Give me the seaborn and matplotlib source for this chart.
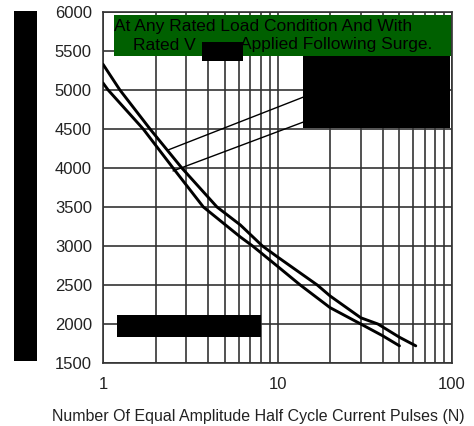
import numpy as np
import pandas as pd
import matplotlib
matplotlib.use("Agg")
import matplotlib.pyplot as plt
from matplotlib.patches import Rectangle
from matplotlib.ticker import FixedLocator, NullFormatter
import seaborn as sns

# values
n_upper = [1, 1.25, 1.86, 2.83, 4.5, 6.13, 8.2, 10, 16.9, 20, 30, 37.6, 50, 62]
v_upper = [5330, 5000, 4500, 4000, 3500, 3269, 3000, 2860, 2500, 2360, 2080, 2000, 1830, 1720]
n_lower = [1, 1.07, 1.70, 2.52, 3.76, 6.13, 7.2, 10, 13.5, 20, 30, 40, 50]
v_lower = [5090, 5000, 4500, 4000, 3500, 3115, 3000, 2740, 2500, 2210, 2000, 1850, 1720]

y_ticks = [1500, 2000, 2500, 3000, 3500, 4000, 4500, 5000, 5500, 6000]
x_ticks = [1, 10, 100]
x_labels = ["1", "10", "100"]

# leader lines (start on curve, end under the label box)
lead_n = [[2.36, 14.1], [2.52, 14.1]]
lead_v = [[4231, 4910], [3962, 4590]]

df = pd.concat([
    pd.DataFrame({"N": n_upper, "I": v_upper, "curve": "upper"}),
    pd.DataFrame({"N": n_lower, "I": v_lower, "curve": "lower"}),
], ignore_index=True)

sns.set_style("white")
plt.rcParams["font.family"] = ["Liberation Sans", "DejaVu Sans"]

W, H = 474, 426
fig = plt.figure(figsize=(W / 100, H / 100), dpi=100)
ax = fig.add_axes([103 / W, 1 - 363 / H, (452 - 103) / W, (363 - 12) / H])

sns.lineplot(data=df, x="N", y="I", hue="curve", palette=["black", "black"],
             sort=False, estimator=None, legend=False, linewidth=2.1, ax=ax, zorder=3)
for xs, ys in zip(lead_n, lead_v):
    ax.plot(xs, ys, color="black", linewidth=1.0, zorder=3)

ax.set_xscale("log")
ax.set_xlim(1, 100)
ax.set_ylim(1500, 6000)
minor = [m * d for d in (1, 10) for m in range(2, 10)]
ax.xaxis.set_major_locator(FixedLocator(x_ticks))
ax.xaxis.set_minor_locator(FixedLocator(minor))
ax.xaxis.set_minor_formatter(NullFormatter())
ax.set_xticklabels(x_labels)
ax.set_yticks(y_ticks)
ax.grid(True, which="both", axis="x", color="#333333", linewidth=1.2)
ax.grid(True, which="major", axis="y", color="#333333", linewidth=1.2)
ax.tick_params(axis="both", which="both", length=0, labelsize=12, colors="#222222")
ax.tick_params(axis="x", pad=10)
ax.tick_params(axis="y", pad=8)
for s in ax.spines.values():
    s.set_color("#333333")
    s.set_linewidth(1.2)
ax.set_xlabel("")
ax.set_ylabel("")

fig.text(258 / W, 1 - 416 / H, "Number Of Equal Amplitude Half Cycle Current Pulses (N)",
         ha="center", va="center", fontsize=11.5, color="#222222")

# overlay in pixel coordinates for the boxes
ov = fig.add_axes([0, 0, 1, 1], zorder=5)
ov.set_xlim(0, W)
ov.set_ylim(H, 0)
ov.axis("off")
ov.patch.set_alpha(0)

ov.add_patch(Rectangle((114, 15), 337, 41, facecolor="#006000", edgecolor="none"))
ov.text(114, 26, "At Any Rated Load Condition And With", ha="left", va="center",
        fontsize=12.5, color="black")
ov.text(133, 45, "Rated V", ha="left", va="center", fontsize=12.5, color="black")
ov.text(432, 45, "Applied Following Surge.", ha="right", va="center",
        fontsize=12.5, color="black")

for x0, y0, x1, y1 in [(14, 11, 37, 361), (202, 42, 243, 61),
                       (303, 56, 450, 128), (117, 315, 261, 337)]:
    ov.add_patch(Rectangle((x0, y0), x1 - x0, y1 - y0, facecolor="black", edgecolor="none"))

fig.savefig("out.png", dpi=100)
